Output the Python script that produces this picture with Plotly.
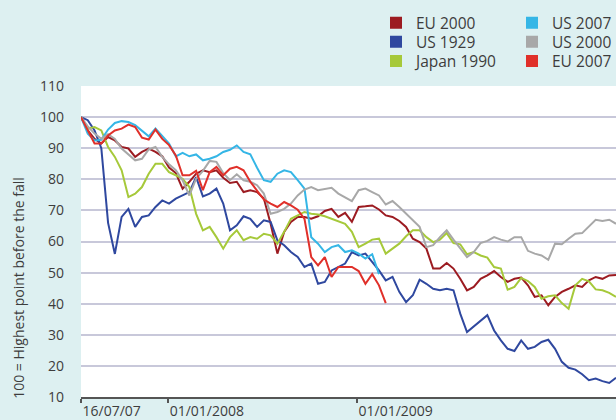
import pandas as pd
import plotly.graph_objects as go

# Index levels, 100 = highest point before the fall.
# Values every 13 days from 16/07/07.
dates = pd.date_range("2007-07-16", periods=80, freq="315h")

eu_2000 = [100, 95.7, 93, 91.5, 93.6, 92.5, 90.4, 89.9, 87.2, 88.8,
           89.9, 88.8, 87.4, 83.8, 82, 77, 79.2, 81.8, 82.9, 82.3,
           82.9, 80.5, 78.8, 79.2, 75.9, 76.5, 75.9, 73.8, 65.7, 56.1,
           63.1, 66.3, 67.9, 67.9, 67.3, 68.1, 69.8, 70.5, 67.9, 69.2,
           66.3, 71.1, 71.3, 71.6, 70.3, 68.4, 67.9, 66.6, 64.7, 60.9,
           59.8, 57.7, 51.3, 51.3, 53.1, 51.3, 48, 44.3, 45.4, 48,
           49.1, 50.5, 48.6, 47, 48, 48.4, 45.9, 42.2, 42.7, 39.5,
           42.2, 43.8, 44.8, 45.9, 45.4, 47.5, 48.6, 48, 49.1, 49.2]

us_1929 = [100, 99, 95.7, 90, 66, 56, 67.9, 70.5, 64.7, 67.9,
           68.4, 71.1, 73.2, 72.2, 73.8, 74.8, 75.9, 80.7, 74.5, 75.4,
           77, 72.2, 63.6, 65.2, 68.1, 67.3, 64.7, 66.8, 66.3, 60.4,
           58.8, 56.6, 55, 51.8, 52.9, 46.4, 47, 50.7, 51.8, 52.9,
           56.6, 55.5, 56.1, 53.4, 50.7, 47.5, 48.6, 43.8, 40.5, 42.7,
           47.7, 46.4, 44.8, 44.3, 44.8, 44.3, 36.8, 30.9, 32.7, 34.7,
           36.3, 31.4, 28.2, 25.5, 24.8, 28.2, 25.5, 26.1, 27.7, 28.4,
           25.5, 21.3, 19.4, 18.8, 17.3, 15.4, 15.9, 15.1, 14.5, 16.2]

japan_1990 = [100, 96.3, 96.8, 95.7, 90.4, 87.2, 82.9, 74.3, 75.4, 77.5,
              81.8, 85, 85, 82.3, 81.3, 80.2, 77.5, 68.9, 63.6, 64.7,
              61.4, 57.7, 61.4, 63.6, 60.4, 61.4, 60.9, 62.5, 62, 59.3,
              63.1, 67.3, 68.4, 69.5, 68.9, 68.7, 68.1, 67.3, 66.3, 65.7,
              63.1, 58.2, 59.3, 60.6, 60.9, 56.1, 57.7, 59.3, 61.7, 63.6,
              63.6, 61.4, 59.8, 60.6, 62.7, 59.5, 59.1, 55.9, 56.6, 55.5,
              54.8, 51.8, 51.3, 44.5, 45.4, 48.3, 47.3, 45.4, 41.6, 42.4,
              42.7, 40.2, 38.4, 45.9, 48, 47.2, 44.6, 44.3, 43.5, 42.2]

us_2007 = [100, 94.7, 92.5, 92.7, 96, 98.1, 98.7, 98.4, 97.4, 95.7,
           93.8, 96.3, 93.8, 91.5, 87.4, 88.5, 87.4, 88, 86.1, 86.6,
           87.4, 88.8, 89.5, 90.9, 88.8, 88, 83.7, 79.7, 79.2, 81.8,
           82.9, 82.3, 79.7, 77, 61.4, 59.3, 56.6, 58.2, 58.8, 56.6,
           57.2, 56.1, 54.5, 55.9, 49.5]

us_2000 = [100, 97, 94.7, 93, 94.5, 93, 89.9, 88, 86.1, 86.6,
           89.6, 90.4, 87.2, 84.8, 82.9, 79.7, 74.8, 80.2, 82.7, 85.9,
           85.6, 82, 79.7, 81.6, 79.7, 79.2, 78.1, 75.4, 68.9, 69.5,
           70.5, 72.2, 74.8, 76.7, 77.5, 76.5, 77, 77.3, 75.4, 74.1,
           73, 76.5, 77, 75.9, 74.8, 71.9, 73, 71.1, 68.9, 66.6,
           64.7, 58.2, 58.8, 61.4, 63.6, 60.6, 57.7, 55, 56.6, 59.5,
           60.2, 61.4, 60.6, 60, 61.4, 61.4, 57, 56.1, 55.5, 54.1,
           59.3, 59.1, 60.9, 62.5, 62.7, 64.7, 67, 66.6, 67, 65.7]

eu_2007 = [100, 96, 91.5, 91.5, 94.1, 95.7, 96.3, 97.6, 96.8, 93.4,
           92.8, 96, 93, 91, 87.7, 81.3, 81.3, 82.7, 76.5, 82.3,
           84, 81.3, 83.4, 84, 82.9, 79.2, 76.5, 73.5, 72.2, 71.1,
           72.7, 71.6, 70.2, 67.3, 55, 52.3, 55, 48.6, 51.8, 51.8,
           51.8, 50.5, 46.4, 49.5, 45.9, 40.2]

tick_vals = ["2007-07-16", "2008-01-01", "2009-01-01"]
tick_text = ["16/07/07", "01/01/2008", "01/01/2009"]

# name, values, colour, legend slot
series = [
    ("EU 2000", eu_2000, "#9c1b21", "legend"),
    ("US 1929", us_1929, "#2f489f", "legend2"),
    ("Japan 1990", japan_1990, "#a6c93a", "legend3"),
    ("US 2007", us_2007, "#35b6e6", "legend4"),
    ("US 2000", us_2000, "#a8a8a8", "legend5"),
    ("EU 2007", eu_2007, "#e0302a", "legend6"),
]

BG = "#ddf0f1"
TEXT = "#3d3d3d"

fig = go.Figure()

for name, vals, color, _ in series:
    fig.add_trace(go.Scatter(
        x=dates[:len(vals)],
        y=vals,
        mode="lines",
        name=name,
        line=dict(color=color, width=2),
        showlegend=False,
    ))

# square swatches for the legend (one legend box per entry)
for name, _, color, leg in series:
    fig.add_trace(go.Scatter(
        x=[None], y=[None],
        mode="markers",
        name=name,
        marker=dict(symbol="square", size=12, color=color),
        legend=leg,
    ))

# text start x, row centre y (pixels)
slots = {
    "legend": (417, 21.7), "legend2": (417, 40.7), "legend3": (417, 60),
    "legend4": (553, 21.7), "legend5": (553, 40.7), "legend6": (553, 60),
}
legends = {}
for key, (tx, ty) in slots.items():
    legends[key] = dict(
        x=(tx - 41) / 616, y=1 - (ty + 1.5) / 420,
        xref="container", yref="container",
        xanchor="left", yanchor="middle",
        bgcolor="rgba(0,0,0,0)",
        font=dict(size=15.5, color=TEXT),
        itemclick=False, itemdoubleclick=False,
    )

fig.update_layout(
    width=616,
    height=420,
    margin=dict(l=81, r=0, t=86, b=23, autoexpand=False),
    paper_bgcolor=BG,
    plot_bgcolor="white",
    font=dict(family="Open Sans, sans-serif", size=14, color=TEXT),
    showlegend=True,
    **legends,
    xaxis=dict(
        type="date",
        range=[dates[0], dates[-1]],
        tickvals=tick_vals,
        ticktext=tick_text,
        tickangle=0,
        ticks="outside",
        ticklen=4,
        tickwidth=1.5,
        tickcolor="#555555",
        ticklabelposition="outside right",
        showline=True,
        linecolor="#555555",
        linewidth=1.5,
        showgrid=False,
        zeroline=False,
    ),
    yaxis=dict(
        range=[10, 110],
        tick0=10,
        dtick=10,
        showgrid=True,
        gridcolor="#c8c8da",
        gridwidth=1.5,
        zeroline=False,
        showline=False,
        ticklabelstandoff=16,
    ),
    annotations=[dict(
        text="100 = Highest point before the fall",
        xref="paper", yref="paper",
        x=(19 - 81) / 535, y=(396.7 - 287.5) / 311,
        textangle=-90,
        showarrow=False,
        xanchor="center", yanchor="middle",
        font=dict(size=14, color=TEXT),
    )],
)

# drop the browser's default body margin so the figure sits at 0,0
fig.write_html(
    "out.html",
    config={"displayModeBar": False},
    post_script="document.body.style.margin='0';",
)
